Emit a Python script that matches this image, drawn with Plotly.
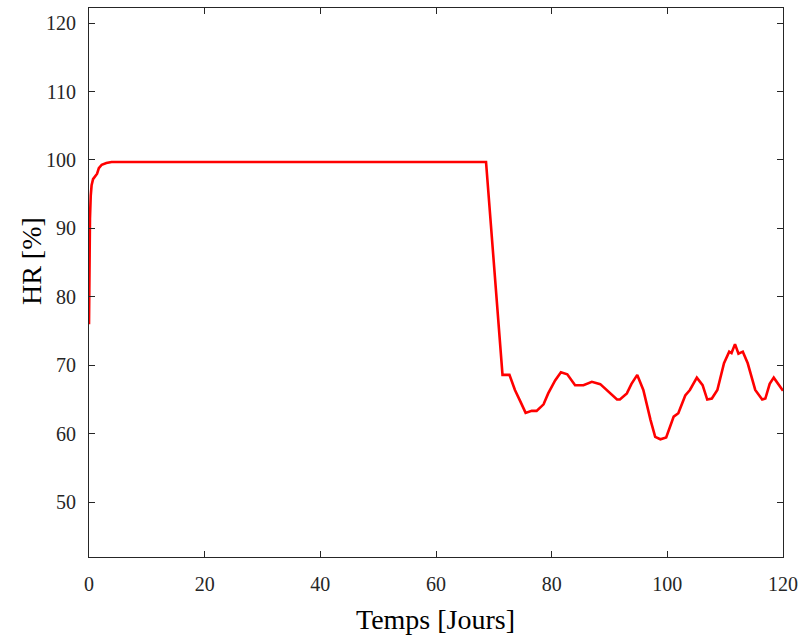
import plotly.graph_objects as go

days = [0, 0.08, 0.17, 0.3, 0.45, 0.7, 1.0, 1.4, 1.7, 2.2, 3.0, 3.9, 68.65,
        71.5, 72.7, 73.65, 74.6, 75.5, 76.55, 77.4, 78.6, 79.4, 80.6, 81.6, 82.7,
        84.05, 85.5, 86.95, 88.4, 89.8, 91.3, 91.8, 93.0, 93.8, 94.8, 95.85, 96.55,
        97.1, 97.9, 98.8, 99.8, 100.5, 101.1, 101.9, 103.1, 103.9, 105.1, 106.1,
        106.9, 107.7, 108.65, 109.8, 110.7, 111.1, 111.7, 112.3, 113.05, 113.9,
        115.2, 116.4, 116.95, 117.7, 118.4, 120.0]
hr = [76.0, 86.0, 91.5, 94.8, 96.3, 97.2, 97.6, 98.0, 98.8, 99.3, 99.55, 99.7, 99.7,
      68.6, 68.6, 66.4, 64.7, 63.05, 63.35, 63.35, 64.3, 65.9, 67.8, 69.0, 68.7,
      67.1, 67.1, 67.6, 67.25, 66.1, 65.0, 65.0, 65.9, 67.3, 68.6, 66.4, 63.7,
      62.0, 59.55, 59.2, 59.45, 61.0, 62.5, 63.0, 65.6, 66.4, 68.2, 67.1,
      65.0, 65.15, 66.4, 70.3, 72.0, 71.8, 73.1, 71.7, 72.0, 70.3,
      66.4, 65.0, 65.15, 67.3, 68.2, 66.3]

x_ticks = [0, 20, 40, 60, 80, 100, 120]
y_ticks = [50, 60, 70, 80, 90, 100, 110, 120]
x_title = "Temps [Jours]"
y_title = "HR [%]"

FONT = "Liberation Serif"

fig = go.Figure(go.Scatter(x=days, y=hr, mode="lines",
                           line=dict(color="#ff0000", width=2.6)))

axis_common = dict(showline=True, linecolor="#262626", linewidth=1, mirror="ticks",
                   ticks="inside", ticklen=6, tickcolor="#262626", showgrid=False,
                   zeroline=False, ticklabeloverflow="allow", automargin=False,
                   tickfont=dict(family=FONT, size=20, color="#262626"))

fig.update_xaxes(range=[0, 120], tickvals=x_ticks, ticklabelstandoff=9, **axis_common)
fig.update_yaxes(range=[42.0, 122.2], tickvals=y_ticks, ticklabelstandoff=8, **axis_common)

# plot area: page x 89..783, y 8..557
fig.add_annotation(text=x_title, xref="paper", yref="paper", x=0.4986, y=-0.113,
                   xanchor="center", yanchor="middle", showarrow=False,
                   font=dict(family=FONT, size=28, color="#000000"))
fig.add_annotation(text=y_title, xref="paper", yref="paper", x=-0.0836, y=0.539,
                   xanchor="center", yanchor="middle", showarrow=False, textangle=-90,
                   font=dict(family=FONT, size=28, color="#000000"))

fig.update_layout(width=799, height=639, margin=dict(l=89, r=16, t=8, b=82, autoexpand=False),
                  plot_bgcolor="white", paper_bgcolor="white", showlegend=False)

fig.write_html("out.html", config={"displayModeBar": False},
               post_script="document.body.style.margin='0';document.body.style.overflow='hidden';")
